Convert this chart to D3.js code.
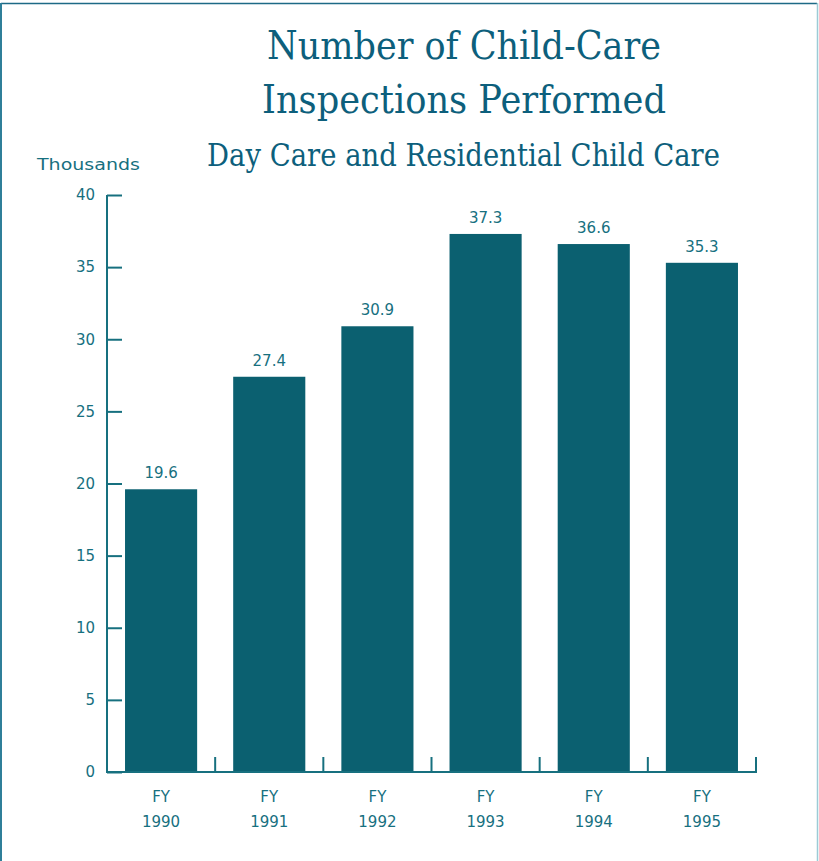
<!DOCTYPE html>
<html>
<head>
<meta charset="utf-8">
<script src="https://cdn.jsdelivr.net/npm/d3@7"></script>
<style>
  body{margin:0;background:#fff;}
  svg{display:block;}
</style>
</head>
<body>
<svg id="chart"></svg>
<script>
const width = 819
const height = 861

// data
const years = ['1990','1991','1992','1993','1994','1995']
const values = [19.6, 27.4, 30.9, 37.3, 36.6, 35.3]
const yTicks = [0,5,10,15,20,25,30,35,40]
const titleLines = ['Number of Child-Care','Inspections Performed']
const subtitle = 'Day Care and Residential Child Care'
const yLabel = 'Thousands'

const barColor = '#0b6070'
const inkColor = '#17707f'
const titleColor = '#0d5f7c'
const tickFont = '"DejaVu Sans", sans-serif'

const margin = {top:195,left:107,right:63,bottom:89}
const innerWidth = width - margin.left - margin.right
const innerHeight = height - margin.top - margin.bottom

const svg = d3.select('#chart')
  .attr('width', width)
  .attr('height', height)

// frame
svg.append('line').attr('x1',1).attr('x2',817).attr('y1',3.5).attr('y2',3.5)
  .attr('stroke','#1d6a86').attr('stroke-width',1.5)
svg.append('line').attr('x1',1).attr('x2',1).attr('y1',3).attr('y2',height)
  .attr('stroke','#2f7f99').attr('stroke-width',2)
svg.append('line').attr('x1',817.5).attr('x2',817.5).attr('y1',3).attr('y2',height)
  .attr('stroke','#9ccbd6').attr('stroke-width',1.5)

// titles
const titleG = svg.append('g').attr('fill', titleColor)
  .attr('font-family','"DejaVu Serif", serif')
  .attr('text-anchor','middle')
titleG.selectAll('text.t').data(titleLines).enter().append('text')
  .attr('class','t')
  .attr('x',464)
  .attr('y',(d,i)=>59 + i*54)
  .attr('font-size',40)
  .attr('textLength',(d,i)=> i==0 ? 394 : 404)
  .attr('lengthAdjust','spacingAndGlyphs')
  .text(d=>d)
titleG.append('text')
  .attr('x',463.5).attr('y',166)
  .attr('font-size',31)
  .attr('textLength',513)
  .attr('lengthAdjust','spacingAndGlyphs')
  .text(subtitle)

svg.append('text')
  .attr('x',37).attr('y',170)
  .attr('font-family',tickFont)
  .attr('font-size',15)
  .attr('fill',inkColor)
  .attr('textLength',103)
  .attr('lengthAdjust','spacingAndGlyphs')
  .text(yLabel)

const Xscale = d3.scaleBand()
  .domain(years)
  .range([0, innerWidth])

const Yscale = d3.scaleLinear()
  .domain([0, 40])
  .range([innerHeight, 0])

const maingroup = svg.append('g')
  .attr('transform', `translate(${margin.left},${margin.top})`)

// bars
const barW = Xscale.bandwidth()*2/3
maingroup.append('g').selectAll('rect')
  .data(values)
  .enter()
  .append('rect')
  .attr('x',(d,i)=>Xscale(years[i]) + (Xscale.bandwidth()-barW)/2)
  .attr('y',d=>Yscale(d))
  .attr('width',barW)
  .attr('height',d=>innerHeight - Yscale(d))
  .attr('fill',barColor)

// value labels
maingroup.append('g').selectAll('text')
  .data(values)
  .enter()
  .append('text')
  .attr('x',(d,i)=>Xscale(years[i]) + Xscale.bandwidth()/2)
  .attr('y',d=>Yscale(d) - 11)
  .attr('text-anchor','middle')
  .attr('font-family',tickFont)
  .attr('font-size',15)
  .attr('fill',inkColor)
  .text(d=>d.toFixed(1))

// y axis
const yAxis = d3.axisRight(Yscale)
  .tickValues(yTicks)
  .tickSize(15)
  .tickFormat(d=>d)

const yg = maingroup.append('g').call(yAxis)
yg.select('.domain').attr('stroke',inkColor).attr('stroke-width',2)
  .attr('d',`M0,${innerHeight}V0`)
yg.selectAll('.tick line').attr('stroke',inkColor).attr('stroke-width',2)
  .attr('x1',0)
yg.selectAll('.tick text')
  .attr('x',-12)
  .attr('text-anchor','end')
  .attr('font-family',tickFont)
  .attr('font-size',15)
  .attr('fill',inkColor)

// x axis: ticks at the band boundaries, pointing up
const xg = maingroup.append('g').attr('transform',`translate(0,${innerHeight})`)
xg.append('line').attr('x1',-1).attr('x2',innerWidth+1)
  .attr('stroke',inkColor).attr('stroke-width',2)
xg.selectAll('line.tk')
  .data(years)
  .enter()
  .append('line')
  .attr('class','tk')
  .attr('x1',d=>Xscale(d)+Xscale.bandwidth())
  .attr('x2',d=>Xscale(d)+Xscale.bandwidth())
  .attr('y1',0).attr('y2',-15)
  .attr('stroke',inkColor).attr('stroke-width',2)

const xl = xg.selectAll('g.lab')
  .data(years)
  .enter()
  .append('g')
  .attr('class','lab')
  .attr('transform',d=>`translate(${Xscale(d)+Xscale.bandwidth()/2},0)`)
  .attr('font-family',tickFont)
  .attr('font-size',15)
  .attr('fill',inkColor)
  .attr('text-anchor','middle')
xl.append('text').attr('y',30).text('FY')
xl.append('text').attr('y',55).text(d=>d)
</script>
</body>
</html>
